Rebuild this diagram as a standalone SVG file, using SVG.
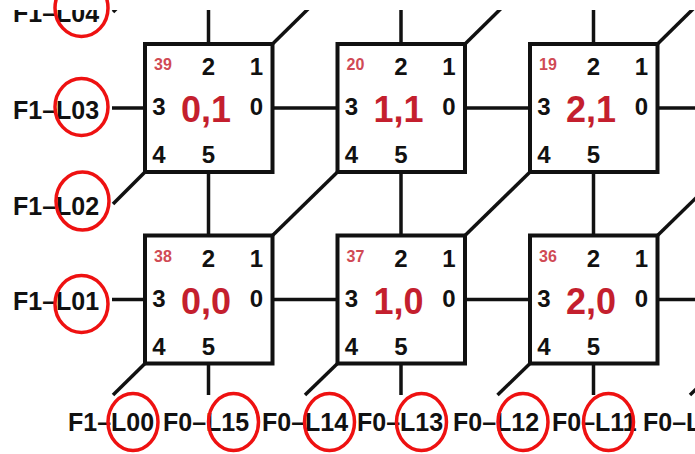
<svg xmlns="http://www.w3.org/2000/svg" width="695" height="454" viewBox="0 0 695 454">
<style>
.box{fill:#fff;stroke:#111;stroke-width:4}
.conn line{stroke:#111;stroke-width:3.5;fill:none}
.port{font-family:"Liberation Sans",Arial,sans-serif;font-weight:bold;font-size:24px;fill:#111;text-anchor:middle}
.nid{font-family:"Liberation Sans",Arial,sans-serif;font-weight:bold;font-size:36px;fill:#c41f2e;text-anchor:middle}
.num{font-family:"Liberation Sans",Arial,sans-serif;font-weight:bold;font-size:16px;fill:#d04a55}
.lbl{font-family:"Liberation Sans",Arial,sans-serif;font-weight:bold;font-size:25px;fill:#111}
.ring{fill:none;stroke:#ee1111;stroke-width:3.5}
</style>
<defs>
<clipPath id="cut"><rect x="0" y="10" width="695" height="444"/></clipPath>
</defs>
<rect width="695" height="454" fill="#fff"/>
<g clip-path="url(#cut)">
<g id="connectors" class="conn">
<line x1="112" y1="108" x2="145" y2="108"/>
<line x1="272.5" y1="108" x2="337.5" y2="108"/>
<line x1="465" y1="108" x2="530" y2="108"/>
<line x1="657.5" y1="108" x2="695" y2="108"/>
<line x1="112" y1="299.5" x2="145" y2="299.5"/>
<line x1="272.5" y1="299.5" x2="337.5" y2="299.5"/>
<line x1="465" y1="299.5" x2="530" y2="299.5"/>
<line x1="657.5" y1="299.5" x2="695" y2="299.5"/>
<line x1="208.5" y1="0" x2="208.5" y2="44"/>
<line x1="401" y1="0" x2="401" y2="44"/>
<line x1="593.5" y1="0" x2="593.5" y2="44"/>
<line x1="208.5" y1="172" x2="208.5" y2="235.5"/>
<line x1="401" y1="172" x2="401" y2="235.5"/>
<line x1="593.5" y1="172" x2="593.5" y2="235.5"/>
<line x1="208.5" y1="363.5" x2="208.5" y2="395"/>
<line x1="401" y1="363.5" x2="401" y2="395"/>
<line x1="593.5" y1="363.5" x2="593.5" y2="395"/>
<line x1="145" y1="-20" x2="113" y2="12"/>
<line x1="337.5" y1="-20" x2="272.5" y2="44"/>
<line x1="530" y1="-20" x2="465" y2="44"/>
<line x1="722.5" y1="-20" x2="657.5" y2="44"/>
<line x1="145" y1="172" x2="113" y2="204"/>
<line x1="337.5" y1="172" x2="272.5" y2="235.5"/>
<line x1="530" y1="172" x2="465" y2="235.5"/>
<line x1="722.5" y1="172" x2="657.5" y2="235.5"/>
<line x1="145" y1="363.5" x2="113" y2="395"/>
<line x1="337.5" y1="363.5" x2="305" y2="395"/>
<line x1="530" y1="363.5" x2="497.5" y2="395"/>
<line x1="722.5" y1="363.5" x2="690" y2="395"/>
</g>
<g id="labels">
<text class="lbl" x="13" y="22">F1–L04</text>
<text class="lbl" x="13" y="119">F1–L03</text>
<text class="lbl" x="13" y="215">F1–L02</text>
<text class="lbl" x="13" y="310">F1–L01</text>
<text class="lbl" x="68" y="431">F1–L00</text>
<text class="lbl" x="163" y="431">F0–L15</text>
<text class="lbl" x="262" y="431">F0–L14</text>
<text class="lbl" x="357" y="431">F0–L13</text>
<text class="lbl" x="453" y="431">F0–L12</text>
<text class="lbl" x="552" y="431">F0–L11</text>
<text class="lbl" x="643" y="431">F0–L</text>
</g>
</g>
<g id="node-0-1" transform="translate(145,44)">
<rect class="box" width="127.5" height="128"/>
<text class="num" x="9" y="26">39</text>
<text class="port" x="63.5" y="31">2</text><text class="port" x="111.5" y="31">1</text>
<text class="port" x="14" y="71">3</text><text class="port" x="111.5" y="71">0</text>
<text class="port" x="14" y="119">4</text><text class="port" x="63.5" y="119">5</text>
<text class="nid" x="61" y="78">0,1</text>
</g>
<g id="node-1-1" transform="translate(337.5,44)">
<rect class="box" width="127.5" height="128"/>
<text class="num" x="9" y="26">20</text>
<text class="port" x="63.5" y="31">2</text><text class="port" x="111.5" y="31">1</text>
<text class="port" x="14" y="71">3</text><text class="port" x="111.5" y="71">0</text>
<text class="port" x="14" y="119">4</text><text class="port" x="63.5" y="119">5</text>
<text class="nid" x="61" y="78">1,1</text>
</g>
<g id="node-2-1" transform="translate(530,44)">
<rect class="box" width="127.5" height="128"/>
<text class="num" x="9" y="26">19</text>
<text class="port" x="63.5" y="31">2</text><text class="port" x="111.5" y="31">1</text>
<text class="port" x="14" y="71">3</text><text class="port" x="111.5" y="71">0</text>
<text class="port" x="14" y="119">4</text><text class="port" x="63.5" y="119">5</text>
<text class="nid" x="61" y="78">2,1</text>
</g>
<g id="node-0-0" transform="translate(145,235.5)">
<rect class="box" width="127.5" height="128"/>
<text class="num" x="9" y="26">38</text>
<text class="port" x="63.5" y="31">2</text><text class="port" x="111.5" y="31">1</text>
<text class="port" x="14" y="71">3</text><text class="port" x="111.5" y="71">0</text>
<text class="port" x="14" y="119">4</text><text class="port" x="63.5" y="119">5</text>
<text class="nid" x="61" y="78">0,0</text>
</g>
<g id="node-1-0" transform="translate(337.5,235.5)">
<rect class="box" width="127.5" height="128"/>
<text class="num" x="9" y="26">37</text>
<text class="port" x="63.5" y="31">2</text><text class="port" x="111.5" y="31">1</text>
<text class="port" x="14" y="71">3</text><text class="port" x="111.5" y="71">0</text>
<text class="port" x="14" y="119">4</text><text class="port" x="63.5" y="119">5</text>
<text class="nid" x="61" y="78">1,0</text>
</g>
<g id="node-2-0" transform="translate(530,235.5)">
<rect class="box" width="127.5" height="128"/>
<text class="num" x="9" y="26">36</text>
<text class="port" x="63.5" y="31">2</text><text class="port" x="111.5" y="31">1</text>
<text class="port" x="14" y="71">3</text><text class="port" x="111.5" y="71">0</text>
<text class="port" x="14" y="119">4</text><text class="port" x="63.5" y="119">5</text>
<text class="nid" x="61" y="78">2,0</text>
</g>
<g id="rings">
<ellipse class="ring" cx="81.5" cy="8" rx="26.5" ry="28.5"/>
<ellipse class="ring" cx="81.5" cy="107" rx="26.5" ry="28.5"/>
<ellipse class="ring" cx="82.5" cy="201" rx="26.5" ry="29"/>
<ellipse class="ring" cx="81.5" cy="304" rx="26.5" ry="28.5"/>
<ellipse class="ring" cx="133" cy="422" rx="25" ry="28.5"/>
<ellipse class="ring" cx="233.5" cy="422" rx="25" ry="28.5"/>
<ellipse class="ring" cx="329.5" cy="422" rx="25" ry="28.5"/>
<ellipse class="ring" cx="421.5" cy="422" rx="25" ry="28.5"/>
<ellipse class="ring" cx="523" cy="422" rx="25" ry="28.5"/>
<ellipse class="ring" cx="608.5" cy="422" rx="25" ry="28.5"/>
</g>
</svg>
